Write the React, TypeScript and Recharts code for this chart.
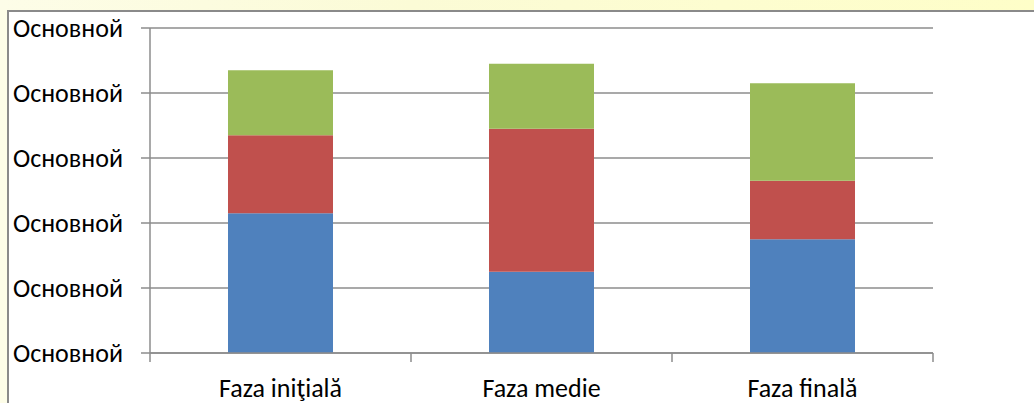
import { Bar, BarChart, CartesianGrid, XAxis, YAxis } from "recharts";

// phase names on the category axis
const phases = ["Faza iniţială", "Faza medie", "Faza finală"];
// stacked segments, bottom to top
const blueValues = [2.15, 1.25, 1.75];
const redValues = [1.2, 2.2, 0.9];
const greenValues = [1.0, 1.0, 1.5];
// every y tick carries the same caption
const yTicks = [0, 1, 2, 3, 4, 5];
const yTickLabel = "Основной";
const phaseEdges = [0, 1, 2, 3];

const data = phases.map((name, i) => ({
  name,
  pos: i + 0.5,
  blue: blueValues[i],
  red: redValues[i],
  green: greenValues[i],
}));

const font = "Carlito, 'Open Sans', 'Noto Sans', sans-serif";
const gridColor = "#8c8c8c";

const YTick = ({ y }: any) => (
  <text x={13} y={y} dy={9} fontSize={26} fontFamily={font} fill="#000">
    {yTickLabel}
  </text>
);

const XTick = ({ x, y, payload }: any) => (
  <text
    x={x}
    y={y}
    dy={35}
    textAnchor="middle"
    fontSize={26}
    fontFamily={font}
    fill="#000"
  >
    {payload.value}
  </text>
);

// edge axis only draws its tick marks
const NoLabel = () => <g />;

export default function App() {
  return (
    <div
      style={{
        position: "absolute",
        left: 0,
        top: 0,
        width: 1034,
        height: 403,
        overflow: "hidden",
        background:
          "linear-gradient(90deg, #fdfde8 0%, #fbfbd6 40%, #fdfdd0 70%, #fefec8 100%)",
      }}
    >
      <div
        style={{
          position: "absolute",
          left: 7,
          top: 10,
          width: 1040,
          height: 400,
          background: "#fff",
          borderLeft: "2px solid #8a8a8a",
          borderTop: "2px solid #8a8a8a",
        }}
      />
      <div style={{ position: "absolute", left: 0, top: 0 }}>
        <BarChart
          width={1034}
          height={403}
          data={data}
          margin={{ top: 28, right: 101, bottom: 19, left: 10 }}
          barSize={105}
        >
          <CartesianGrid
            vertical={false}
            stroke={gridColor}
            strokeWidth={1.5}
            yAxisId="v"
            xAxisId="b_cat"
          />
          <XAxis
            xAxisId="a_edge"
            dataKey="pos"
            type="number"
            domain={[0, 3]}
            ticks={phaseEdges}
            tick={<NoLabel />}
            tickSize={9}
            height={1}
            stroke={gridColor}
            strokeWidth={1.5}
            interval={0}
            allowDataOverflow
          />
          <XAxis
            xAxisId="b_cat"
            dataKey="name"
            axisLine={false}
            tickLine={false}
            height={30}
            tick={<XTick />}
            interval={0}
          />
          <YAxis
            yAxisId="v"
            domain={[0, 5]}
            ticks={yTicks}
            width={140}
            tickSize={9}
            stroke={gridColor}
            strokeWidth={1.5}
            tick={<YTick />}
            interval={0}
          />
          <Bar xAxisId="b_cat" yAxisId="v" dataKey="blue" stackId="a" fill="#4f81bd" isAnimationActive={false} />
          <Bar xAxisId="b_cat" yAxisId="v" dataKey="red" stackId="a" fill="#c0504d" isAnimationActive={false} />
          <Bar xAxisId="b_cat" yAxisId="v" dataKey="green" stackId="a" fill="#9bbb59" isAnimationActive={false} />
        </BarChart>
      </div>
    </div>
  );
}
